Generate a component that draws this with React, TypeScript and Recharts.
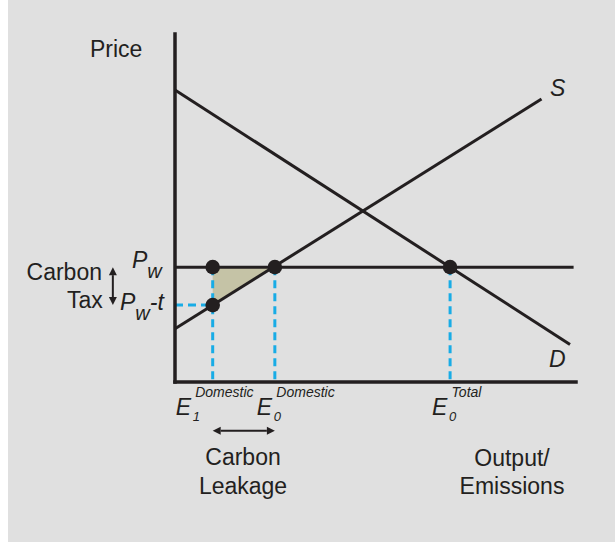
import React from "react"
import { ComposedChart, Line, Area, Scatter, XAxis, YAxis, ReferenceLine } from "recharts"

// chart units: output 0-100 across, price 0-100 up
const supply = [{ q: 0, p: 15.3 }, { q: 91.4, p: 81.3 }]
const demand = [{ q: 0, p: 83.9 }, { q: 98.5, p: 10.8 }]
const worldPrice = 33.0
const taxedPrice = 22.1
const worldLineEnd = 99.4
const eTicks = [9.4, 24.9, 68.6]
const eSubs = ["1", "0", "0"]
const eSups = ["Domestic", "Domestic", "Total"]
const priceTicks = [taxedPrice, worldPrice]
const taxArrowQ = -15.5
const leakageArrowP = -14

const INK = "#231f20"
const BLUE = "#18ace6"
const FONT = "'Liberation Sans', Arial, sans-serif"

const worldLine = [{ q: 0, p: worldPrice }, { q: worldLineEnd, p: worldPrice }]
const dots = [
  { q: eTicks[0], p: worldPrice },
  { q: eTicks[1], p: worldPrice },
  { q: eTicks[2], p: worldPrice },
  { q: eTicks[0], p: taxedPrice },
]
const leakageArea = [
  { q: eTicks[0], lo: taxedPrice, hi: worldPrice },
  { q: eTicks[1], lo: worldPrice, hi: worldPrice },
]
const dropLines = eTicks.map((e) => [{ q: e, p: worldPrice }, { q: e, p: 0 }])
const taxLine = [{ q: 0, p: taxedPrice }, { q: eTicks[0], p: taxedPrice }]

function ETick({ x, y, payload }: any) {
  const i = eTicks.indexOf(payload.value)
  const s = i === 0 ? -19 : 0
  return (
    <g fill={INK} fontFamily={FONT} fontStyle="italic">
      <text x={x + s - 18} y={y + 33} fontSize={23}>E</text>
      <text x={x + s - 1} y={y + 39} fontSize={13}>{eSubs[i]}</text>
      <text x={x + s + 1.5} y={y + 15} fontSize={14}>{eSups[i]}</text>
    </g>
  )
}

function PTick({ x, y, payload }: any) {
  if (payload.value === worldPrice) {
    return (
      <text x={x - 43} y={y + 1} fill={INK} fontFamily={FONT} fontStyle="italic" fontSize={23}>
        P<tspan fontSize={20} dy={10}>w</tspan>
      </text>
    )
  }
  return (
    <text x={x - 55} y={y + 5} fill={INK} fontFamily={FONT} fontStyle="italic" fontSize={23}>
      P<tspan fontSize={20} dy={10}>w</tspan>
      <tspan dy={-10}>-t</tspan>
    </text>
  )
}

function DoubleArrow({ x1, y1, x2, y2 }: any) {
  const len = Math.hypot(x2 - x1, y2 - y1)
  const ux = (x2 - x1) / len
  const uy = (y2 - y1) / len
  const h = 8
  const w = 4
  const head = (px: number, py: number, dx: number, dy: number) =>
    `${px},${py} ${px - dx * h - dy * w},${py - dy * h + dx * w} ${px - dx * h + dy * w},${py - dy * h - dx * w}`
  return (
    <g>
      <line x1={x1 + ux * h} y1={y1 + uy * h} x2={x2 - ux * h} y2={y2 - uy * h} stroke={INK} strokeWidth={2} />
      <polygon points={head(x2, y2, ux, uy)} fill={INK} />
      <polygon points={head(x1, y1, -ux, -uy)} fill={INK} />
    </g>
  )
}

export default function App() {
  const txt = { fill: INK, fontFamily: FONT, fontSize: 23 }
  return (
    <div style={{ position: "absolute", left: 0, top: 0, width: 615, height: 542, background: "#fff" }}>
      <div style={{ position: "absolute", left: 8, top: 0, width: 607, height: 542, background: "#e0e0e0" }} />
      <div style={{ position: "absolute", left: 0, top: 0 }}>
        <ComposedChart width={615} height={542} margin={{ top: 34, right: 39, bottom: 8, left: 8 }}>
          <XAxis
            type="number"
            dataKey="q"
            domain={[0, 100]}
            allowDataOverflow
            ticks={eTicks}
            interval={0}
            height={152}
            tickSize={0}
            tickMargin={0}
            tickLine={false}
            axisLine={{ stroke: INK, strokeWidth: 3.5, strokeLinecap: "square" }}
            tick={<ETick />}
          />
          <YAxis
            type="number"
            dataKey="p"
            domain={[0, 100]}
            allowDataOverflow
            ticks={priceTicks}
            interval={0}
            width={167}
            tickSize={0}
            tickMargin={0}
            tickLine={false}
            axisLine={{ stroke: INK, strokeWidth: 3.5, strokeLinecap: "square" }}
            tick={<PTick />}
          />
          <Area
            data={leakageArea}
            dataKey={(d: any) => [d.lo, d.hi]}
            type="linear"
            fill="#c5c3a6"
            fillOpacity={1}
            stroke="none"
            isAnimationActive={false}
          />
          {dropLines.map((seg, i) => (
            <Line
              key={`drop-${i}`}
              data={seg}
              dataKey="p"
              type="linear"
              stroke={BLUE}
              strokeWidth={3}
              strokeDasharray="8 5"
              dot={false}
              activeDot={false}
              isAnimationActive={false}
            />
          ))}
          <Line data={taxLine} dataKey="p" type="linear" stroke={BLUE} strokeWidth={3} strokeDasharray="8 5" dot={false} activeDot={false} isAnimationActive={false} />
          <Line data={worldLine} dataKey="p" type="linear" stroke={INK} strokeWidth={3} dot={false} activeDot={false} isAnimationActive={false} />
          <Line data={demand} dataKey="p" type="linear" stroke={INK} strokeWidth={3} dot={false} activeDot={false} isAnimationActive={false} />
          <Line data={supply} dataKey="p" type="linear" stroke={INK} strokeWidth={3} dot={false} activeDot={false} isAnimationActive={false} />
          <Scatter
            data={dots}
            dataKey="p"
            isAnimationActive={false}
            shape={(p: any) => <circle cx={p.cx} cy={p.cy} r={7.3} fill={INK} />}
          />
          <ReferenceLine
            segment={[{ x: taxArrowQ, y: worldPrice }, { x: taxArrowQ, y: taxedPrice }]}
            ifOverflow="visible"
            shape={<DoubleArrow />}
          />
          <ReferenceLine
            segment={[{ x: eTicks[0], y: leakageArrowP }, { x: eTicks[1], y: leakageArrowP }]}
            ifOverflow="visible"
            shape={<DoubleArrow />}
          />
        </ComposedChart>
      </div>
      <svg width={615} height={542} style={{ position: "absolute", left: 0, top: 0, pointerEvents: "none" }}>
        <text x={90} y={57} {...txt}>Price</text>
        <text x={557.7} y={95.7} textAnchor="middle" fontStyle="italic" {...txt}>S</text>
        <text x={549} y={366.7} fontStyle="italic" {...txt}>D</text>
        <text x={102} y={280} textAnchor="end" {...txt}>Carbon</text>
        <text x={102.7} y={308} textAnchor="end" {...txt}>Tax</text>
        <text x={243} y={464.5} textAnchor="middle" {...txt}>Carbon</text>
        <text x={243} y={494} textAnchor="middle" {...txt}>Leakage</text>
        <text x={512} y={466} textAnchor="middle" {...txt}>Output/</text>
        <text x={512} y={494} textAnchor="middle" {...txt}>Emissions</text>
      </svg>
    </div>
  )
}
